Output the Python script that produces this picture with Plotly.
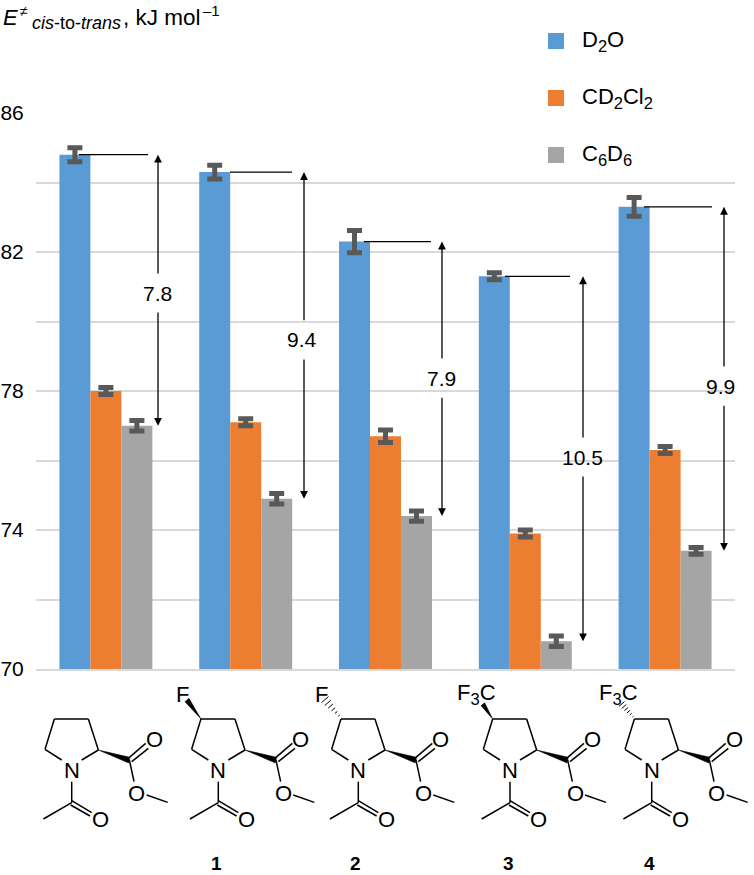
import plotly.graph_objects as go

# ---- data ----
compounds = ["Ac-Pro-OMe", "1", "2", "3", "4"]
SUB = "<sub><span style='font-size:16.5px'>%s</span></sub>"
series_names = ["D" + SUB % "2" + "O", "CD" + SUB % "2" + "Cl" + SUB % "2", "C" + SUB % "6" + "D" + SUB % "6"]
colors = ["#5B9BD5", "#ED7D31", "#A5A5A5"]
d2o = [84.8, 84.3, 82.3, 81.3, 83.3]
cd2cl2 = [78.0, 77.1, 76.7, 73.9, 76.3]
c6d6 = [77.0, 74.9, 74.4, 70.8, 73.4]
d2o_err = [0.2, 0.2, 0.32, 0.1, 0.27]
cd2cl2_err = [0.1, 0.1, 0.18, 0.1, 0.1]
c6d6_err = [0.15, 0.15, 0.15, 0.15, 0.1]
delta_labels = ["7.8", "9.4", "7.9", "10.5", "9.9"]
delta_label_y = [80.82, 79.47, 78.37, 76.10, 78.14]
y_ticks = [70, 74, 78, 82, 86]
compound_labels = ["1", "2", "3", "4"]

# ---- geometry ----
W, H = 754, 875
L, R, T, B = 36, 735, 113, 669
def px(x, y):
    return (x - L) / (R - L), (B - y) / (B - T)
def xval(x):
    return (x - L) / ((R - L) / 5) - 0.5

xs = list(range(5))
fig = go.Figure()
for name, vals, errs, c in zip(series_names, [d2o, cd2cl2, c6d6], [d2o_err, cd2cl2_err, c6d6_err], colors):
    fig.add_bar(x=xs, y=vals, name=name, marker=dict(color=c, line=dict(width=0)),
                error_y=dict(type="data", array=errs, color="#595959", thickness=5, width=7.5))

shapes, annos = [], []
FONT = "Liberation Sans"
def text(x, y, s, size=22, **kw):
    xa = kw.pop("xanchor", "center")
    if xa == "left":
        x -= 2
    xp, yp = px(x, y)
    annos.append(dict(x=xp, y=yp, xref="paper", yref="paper", text=s, showarrow=False,
                      font=dict(family=FONT, size=size, color="black"), xanchor=xa,
                      yanchor="middle", align="center", **kw))
def line(x0, y0, x1, y1, w=1.5):
    a, b = px(x0, y0); c, d = px(x1, y1)
    shapes.append(dict(type="line", xref="paper", yref="paper", x0=a, y0=b, x1=c, y1=d,
                       line=dict(color="black", width=w), layer="above"))
def poly(pts):
    p = [px(*q) for q in pts]
    d = "M " + " L ".join(f"{a:.5f},{b:.5f}" for a, b in p) + " Z"
    shapes.append(dict(type="path", xref="paper", yref="paper", path=d, fillcolor="black",
                       line=dict(color="black", width=0.5), layer="above"))

# ---- delta leaders and arrows (data-coordinates) ----
leader_px = [(79, 148), (230, 292), (364, 431), (505, 570), (644, 712)]
arrow_px = [158, 304, 442, 583, 724]
label_px = [157.5, 302, 441, 582, 720]
GAP = 0.52
for i in range(5):
    shapes.append(dict(type="line", xref="x", yref="y", x0=xval(leader_px[i][0]), x1=xval(leader_px[i][1]),
                       y0=d2o[i], y1=d2o[i], line=dict(color="black", width=1.3), layer="above"))
    for tip, tail in ((d2o[i], delta_label_y[i] + GAP), (c6d6[i], delta_label_y[i] - GAP)):
        annos.append(dict(x=xval(arrow_px[i]), y=tip, ax=xval(arrow_px[i]), ay=tail, xref="x", yref="y",
                          axref="x", ayref="y", text="", showarrow=True, arrowhead=2,
                          arrowsize=1.2, arrowwidth=1.3, arrowcolor="black", standoff=0))
    annos.append(dict(x=xval(label_px[i]), y=delta_label_y[i], xref="x", yref="y",
                      text=delta_labels[i], showarrow=False,
                      font=dict(family=FONT, size=21, color="black")))

# ---- axis title, assembled from its parts ----
text(3, 18, "<i>E</i>", size=22, xanchor="left")
text(20, 11, "≠", size=14, xanchor="left")
text(32, 23, "<i>cis</i>-to-<i>trans</i>", size=18, xanchor="left")
text(123, 18, ", kJ mol", size=22.5, xanchor="left")
text(203, 10, "–1", size=15, xanchor="left")

# ---- legend ----
legend_y = [41, 98, 155]
for name, c, y in zip(series_names, colors, legend_y):
    a, b = px(548, y - 8); cc, d = px(564, y + 8)
    shapes.append(dict(type="rect", xref="paper", yref="paper", x0=a, y0=b, x1=cc, y1=d,
                       fillcolor=c, line=dict(width=0)))
    text(582, y, name, size=22, xanchor="left")

# ---- structures ----
N_x = [71.7, 218.3, 358.3, 510, 651.7]
N_y = 770
BONDS = [((-30,-30),(-80,-62)), ((-80,-62),(-52,-153)), ((-52,-153),(50,-153)), ((50,-153),(80,-60)), ((80,-60),(30,-30)),
         ((173,-38),(222,-80)), ((180,-25),(230,-65)), ((173,-30),(187,35)), ((225,75),(288,97)),
         ((0,35),(0,98)), ((0,98),(-85,147)), ((0,92),(60,128)), ((-3,105),(55,138))]
for k, nx in enumerate(N_x):
    P = lambda dx, dy: (nx + dx / 3, N_y + dy / 3)
    for a, b in BONDS:
        line(*P(*a), *P(*b))
    poly([P(80,-60), P(175,-38), P(171,-21)])
    text(*P(0,0), "N")
    text(*P(247,-92), "O")
    text(*P(195,70), "O")
    text(*P(85,147), "O")
    if k == 1:
        poly([P(-52,-153), P(-100,-205), P(-88,-215)])
        text(*P(-107,-228), "F")
    if k == 2:
        for t in range(6):
            f = t / 5
            cx, cy = -58 - 42 * f, -163 - 48 * f
            h = 3 + 11 * f
            line(*P(cx - h * .75, cy + h * .65), *P(cx + h * .75, cy - h * .65), 1)
        text(*P(-110,-228), "F")
    if k == 3:
        poly([P(-52,-153), P(-87,-193), P(-76,-202)])
        text(*P(-100,-228), "F" + SUB % "3" + "C")
    if k == 4:
        for t in range(6):
            f = t / 5
            cx, cy = -56 - 34 * f, -160 - 38 * f
            h = 2 + 9 * f
            line(*P(cx - h * .75, cy + h * .65), *P(cx + h * .75, cy - h * .65), 1)
        text(*P(-101,-228), "F" + SUB % "3" + "C")

label_x = [216, 355, 508, 649]
for s, x in zip(compound_labels, label_x):
    text(x, 863, f"<b>{s}</b>", size=19)

fig.update_layout(
    width=W, height=H, autosize=False, showlegend=False,
    margin=dict(l=L, r=W - R, t=T, b=H - B, pad=0),
    paper_bgcolor="white", plot_bgcolor="white",
    barmode="group", bargap=0.335, bargroupgap=0,
    shapes=shapes, annotations=annos,
    xaxis=dict(range=[-0.5, 4.5], showticklabels=False, ticks="", showgrid=False, zeroline=False,
               showline=True, linecolor="#D9D9D9", linewidth=2),
    yaxis=dict(range=[70, 86], tickmode="array", tickvals=y_ticks, ticktext=[str(v) for v in y_ticks],
               showgrid=True, gridcolor="#D9D9D9", gridwidth=2, zeroline=False,
               ticks="outside", ticklen=7, tickwidth=1, tickcolor="rgba(0,0,0,0)", automargin=False,
               tickfont=dict(family=FONT, size=21, color="black"),
               minor=dict(tickmode="array", tickvals=[72, 76, 80, 84], showgrid=True, gridcolor="#D9D9D9", gridwidth=2, ticks="")),
)
fig.write_html("out.html", config=dict(displayModeBar=False),
               post_script="document.body.style.margin='0';document.documentElement.style.overflow='hidden';")
